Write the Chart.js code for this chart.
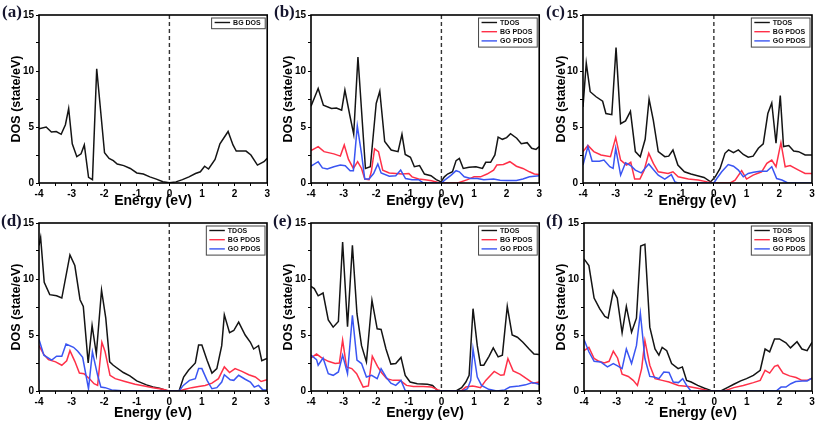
<!DOCTYPE html>
<html><head><meta charset="utf-8">
<script src="https://cdn.jsdelivr.net/npm/chart.js@4/dist/chart.umd.min.js"></script>
<style>
html,body{margin:0;padding:0;background:#fff;}
#wrap{position:relative;width:817px;height:424px;overflow:hidden;background:#fff;}
canvas{position:absolute;}
.lbl{position:absolute;font:bold 17px "Liberation Serif","DejaVu Serif",serif;line-height:17px;color:#15152e;}
</style></head><body><div id="wrap"></div>
<script>
// ---- axis / labels ----
const panelLabels = ['(a)', '(b)', '(c)', '(d)', '(e)', '(f)'];
const xTitle = 'Energy (eV)';
const yTitle = 'DOS (state/eV)';
const xRange = [-4, 3];
const yRange = [0, 15];
const seriesNames = ['TDOS', 'BG PDOS', 'GO PDOS'];
const singleName = 'BG DOS';

// ---- data: [energy (eV), DOS (state/eV)] ----
const aBG = [[-4,4.85],[-3.78,5.0],[-3.62,4.55],[-3.47,4.6],[-3.32,4.35],[-3.19,5.2],[-3.09,6.65],[-2.98,3.5],[-2.84,2.35],[-2.71,2.6],[-2.61,3.4],[-2.48,0.5],[-2.36,0.3],[-2.23,10.2],[-1.99,2.7],[-1.85,2.2],[-1.72,2.0],[-1.6,1.7],[-1.4,1.55],[-1.2,1.3],[-1.0,0.9],[-0.8,0.8],[-0.6,0.55],[-0.4,0.35],[-0.2,0.12],[0,0.03],[0.2,0.1],[0.4,0.3],[0.6,0.55],[0.8,0.85],[0.95,1.0],[1.08,1.5],[1.2,1.25],[1.4,2.1],[1.55,3.5],[1.8,4.6],[1.95,3.4],[2.05,2.85],[2.35,2.85],[2.5,2.5],[2.7,1.6],[2.9,1.9],[3.0,2.2]];

const bTDOS = [[-4,6.86],[-3.78,8.43],[-3.62,6.95],[-3.37,6.65],[-3.22,6.7],[-3.06,6.5],[-2.96,8.3],[-2.81,6.05],[-2.69,4.35],[-2.56,11.25],[-2.33,1.3],[-2.18,1.45],[-2.0,7.1],[-1.89,8.2],[-1.74,3.7],[-1.54,2.95],[-1.33,2.8],[-1.21,4.35],[-1.11,2.55],[-0.95,2.3],[-0.83,1.45],[-0.67,1.55],[-0.52,0.8],[-0.32,0.65],[-0.16,0.3],[-0.01,0.1],[0.09,0.55],[0.19,0.8],[0.34,1.0],[0.45,2.0],[0.55,2.2],[0.67,1.3],[0.85,1.4],[1.06,1.45],[1.26,1.3],[1.36,1.85],[1.51,1.85],[1.64,2.5],[1.74,4.1],[1.87,3.9],[2.0,4.05],[2.12,4.4],[2.31,4.0],[2.45,3.5],[2.63,3.6],[2.77,3.1],[2.9,3.0],[3.0,3.25]];
const bBG = [[-4,2.9],[-3.78,3.25],[-3.6,2.8],[-3.3,2.6],[-3.1,2.4],[-2.98,3.4],[-2.85,2.1],[-2.7,1.3],[-2.57,1.9],[-2.45,1.3],[-2.35,0.35],[-2.22,0.3],[-2.15,1.0],[-2.05,3.05],[-1.93,2.8],[-1.8,1.15],[-1.6,0.9],[-1.4,0.85],[-1.2,0.8],[-1.0,0.85],[-0.9,0.55],[-0.7,0.35],[-0.5,0.3],[-0.3,0.2],[-0.1,0.05],[0,0],[0.5,0],[0.8,0.3],[1.0,0.55],[1.2,0.55],[1.4,0.8],[1.6,1.15],[1.7,1.6],[1.9,1.65],[2.1,1.9],[2.3,1.5],[2.5,1.3],[2.7,1.0],[2.85,0.8],[3.0,0.75]];
const bGO = [[-4,1.5],[-3.78,1.9],[-3.65,1.35],[-3.5,1.25],[-3.3,1.45],[-3.1,1.6],[-2.95,1.55],[-2.8,1.1],[-2.7,1.1],[-2.58,5.1],[-2.45,2.6],[-2.35,0.35],[-2.22,0.35],[-2.08,0.85],[-1.95,1.7],[-1.85,0.9],[-1.6,0.6],[-1.4,0.65],[-1.25,1.15],[-1.1,0.4],[-0.9,0.3],[-0.7,0.3],[-0.55,0],[0,0],[0.1,0.25],[0.3,0.7],[0.45,1.1],[0.55,1.0],[0.7,0.55],[0.9,0.4],[1.1,0.4],[1.3,0.3],[1.6,0.35],[1.8,0.25],[2.0,0.22],[2.3,0.22],[2.5,0.35],[2.7,0.55],[3.0,0.65]];

const cTDOS = [[-4,6.8],[-3.9,10.7],[-3.78,8.15],[-3.6,7.7],[-3.4,7.3],[-3.3,6.2],[-3.12,6.1],[-2.99,12.1],[-2.85,5.3],[-2.7,5.55],[-2.55,6.4],[-2.4,2.8],[-2.25,2.35],[-2.1,3.9],[-1.98,7.5],[-1.85,5.6],[-1.7,2.8],[-1.5,2.35],[-1.38,2.4],[-1.25,2.95],[-1.1,1.6],[-0.9,1.0],[-0.7,0.8],[-0.5,0.65],[-0.3,0.5],[-0.1,0.1],[0.04,0.55],[0.19,1.3],[0.34,2.65],[0.45,2.95],[0.6,2.7],[0.75,2.95],[0.9,2.55],[1.05,2.3],[1.2,2.4],[1.36,3.1],[1.51,3.5],[1.65,6.2],[1.77,7.15],[1.9,3.55],[2.03,7.8],[2.13,3.25],[2.29,3.35],[2.44,2.85],[2.59,2.8],[2.79,2.5],[3.0,2.5]];
const cBG = [[-4,2.8],[-3.85,3.35],[-3.67,2.8],[-3.45,2.5],[-3.16,2.35],[-3.0,4.05],[-2.85,2.05],[-2.67,1.6],[-2.54,1.85],[-2.42,0.35],[-2.26,0.35],[-2.13,1.15],[-1.99,2.65],[-1.85,1.75],[-1.7,1.0],[-1.4,0.85],[-1.25,1.0],[-1.09,0.55],[-0.78,0.35],[-0.48,0.27],[-0.2,0.1],[0,0],[0.5,0],[0.65,0.25],[0.85,1.1],[1.0,0.35],[1.2,0.7],[1.46,1.0],[1.62,1.75],[1.77,2.05],[1.9,1.45],[2.05,3.6],[2.18,1.45],[2.33,1.55],[2.59,1.15],[2.79,0.85],[3.0,0.85]];
const cGO = [[-4,1.6],[-3.85,3.25],[-3.72,1.95],[-3.5,1.95],[-3.36,2.05],[-3.18,1.45],[-3.08,1.3],[-3.0,3.1],[-2.85,0.7],[-2.7,1.8],[-2.54,1.55],[-2.4,1.15],[-2.22,0.9],[-1.99,1.7],[-1.85,1.2],[-1.7,0.7],[-1.5,0.35],[-1.3,0.75],[-1.19,0.1],[-1.09,0],[0,0],[0.09,0.4],[0.24,1.0],[0.44,1.65],[0.6,1.5],[0.75,1.15],[0.9,0.55],[1.05,0.85],[1.21,0.95],[1.41,1.05],[1.62,1.05],[1.77,1.45],[1.92,0.4],[2.08,0.27],[2.26,0],[3.0,0]];

const dTDOS = [[-4,13.0],[-3.95,13.7],[-3.84,9.7],[-3.67,8.6],[-3.46,8.5],[-3.3,8.3],[-3.05,12.15],[-2.9,11.2],[-2.74,8.15],[-2.64,7.55],[-2.49,2.5],[-2.37,5.85],[-2.24,3.3],[-2.08,9.0],[-1.95,6.5],[-1.83,2.6],[-1.72,2.3],[-1.41,1.65],[-1.21,1.35],[-1.0,0.9],[-0.7,0.55],[-0.5,0.35],[-0.3,0.25],[-0.05,0],[0.3,0],[0.44,1.25],[0.59,1.85],[0.8,2.5],[0.9,4.1],[1.0,4.1],[1.16,2.75],[1.31,1.6],[1.46,2.0],[1.61,4.05],[1.69,6.8],[1.85,5.2],[1.98,5.4],[2.13,6.15],[2.33,5.0],[2.49,4.35],[2.59,3.75],[2.74,4.05],[2.84,2.7],[3.0,2.9]];
const dBG = [[-4,4.05],[-3.85,3.25],[-3.71,2.8],[-3.49,2.6],[-3.3,2.3],[-3.15,2.7],[-3.05,3.6],[-2.9,2.65],[-2.76,1.6],[-2.62,1.55],[-2.45,1.1],[-2.31,0.65],[-2.2,0.5],[-2.07,4.35],[-1.97,3.5],[-1.82,1.4],[-1.66,1.1],[-1.36,0.85],[-1.05,0.6],[-0.77,0.45],[-0.5,0.3],[-0.2,0.15],[0,0],[0.3,0],[0.49,0.15],[0.69,0.3],[0.9,0.4],[1.1,0.5],[1.31,0.7],[1.51,1.1],[1.69,2.15],[1.85,1.65],[2.02,2.0],[2.23,1.75],[2.44,1.45],[2.64,1.25],[2.82,0.85],[3.0,1.0]];
const dGO = [[-4,4.6],[-3.85,3.2],[-3.61,2.75],[-3.46,3.1],[-3.3,3.1],[-3.17,4.2],[-2.94,3.9],[-2.81,3.55],[-2.66,3.0],[-2.48,0.2],[-2.36,3.5],[-2.2,1.4],[-2.1,0.35],[-1.97,0.3],[-1.77,0.1],[-1.36,0],[0.3,0],[0.43,0.5],[0.62,0.95],[0.8,1.1],[0.9,2.0],[1.0,2.0],[1.16,0.95],[1.31,0.2],[1.46,0.3],[1.61,0.8],[1.69,1.45],[1.87,1.0],[1.98,0.95],[2.13,1.4],[2.33,1.05],[2.49,0.8],[2.61,0.35],[2.74,0.5],[2.87,0.1],[3.0,0.1]];

const eTDOS = [[-4,9.35],[-3.9,9.15],[-3.78,8.5],[-3.63,8.75],[-3.47,6.35],[-3.32,5.7],[-3.16,6.2],[-3.03,13.3],[-2.88,5.75],[-2.73,13.0],[-2.59,6.9],[-2.45,4.05],[-2.3,2.6],[-2.13,8.1],[-1.97,5.55],[-1.85,5.5],[-1.7,3.75],[-1.55,2.4],[-1.4,2.45],[-1.24,3.0],[-1.11,1.4],[-0.96,0.8],[-0.74,0.65],[-0.43,0.6],[-0.27,0.5],[-0.12,0.05],[0,0],[0.45,0],[0.62,0.3],[0.75,0.8],[0.85,1.4],[0.97,7.35],[1.1,4.05],[1.2,2.3],[1.3,2.3],[1.46,3.1],[1.59,3.85],[1.74,3.05],[1.87,3.2],[2.02,7.55],[2.17,5.0],[2.33,4.8],[2.5,4.35],[2.69,3.75],[2.84,3.3],[3.0,3.25]];
const eBG = [[-4,2.95],[-3.83,3.3],[-3.67,2.95],[-3.47,2.65],[-3.26,2.45],[-3.13,2.5],[-3.03,4.55],[-2.91,2.15],[-2.75,2.0],[-2.6,1.55],[-2.5,0.95],[-2.4,0.35],[-2.24,0.45],[-2.12,3.1],[-1.96,2.2],[-1.84,1.65],[-1.68,1.1],[-1.48,0.95],[-1.27,0.95],[-1.07,0.5],[-0.86,0.4],[-0.56,0.4],[-0.3,0.35],[-0.1,0.1],[0,0],[0.6,0],[0.75,0.35],[0.95,0.45],[1.04,0.4],[1.2,0.3],[1.36,0.95],[1.62,1.75],[1.82,1.4],[1.92,1.45],[2.04,2.9],[2.2,1.8],[2.41,1.5],[2.61,1.1],[2.81,0.7],[3.0,0.8]];
const eGO = [[-4,3.2],[-3.83,2.8],[-3.78,2.3],[-3.63,2.95],[-3.47,1.55],[-3.32,1.4],[-3.16,1.7],[-3.03,3.2],[-2.88,1.55],[-2.73,6.75],[-2.59,2.75],[-2.45,2.45],[-2.3,1.25],[-2.14,1.4],[-1.97,1.1],[-1.85,2.0],[-1.7,1.25],[-1.55,0.7],[-1.4,0.5],[-1.24,0.95],[-1.11,0.05],[-0.99,0],[0.65,0],[0.8,0.2],[0.9,0.95],[0.97,3.75],[1.1,1.25],[1.23,0.5],[1.45,0.15],[1.7,0],[1.94,0.1],[2.1,0.35],[2.38,0.45],[2.58,0.55],[2.79,0.75],[3.0,0.6]];

const fTDOS = [[-4,11.8],[-3.85,11.2],[-3.69,8.3],[-3.52,7.35],[-3.36,6.65],[-3.26,6.5],[-3.1,8.95],[-2.98,8.3],[-2.83,5.2],[-2.7,7.55],[-2.54,5.25],[-2.39,6.5],[-2.26,12.95],[-2.13,13.1],[-1.98,5.7],[-1.82,3.75],[-1.7,3.2],[-1.6,3.9],[-1.46,3.6],[-1.31,2.45],[-1.11,2.0],[-0.98,2.15],[-0.85,0.95],[-0.71,0.8],[-0.51,0.5],[-0.3,0.25],[-0.11,0.05],[0,0],[0.2,0],[0.4,0.3],[0.6,0.6],[0.81,0.9],[0.99,1.1],[1.2,1.4],[1.41,1.85],[1.56,3.75],[1.7,3.5],[1.85,4.65],[2.0,4.65],[2.2,4.3],[2.34,3.85],[2.54,4.4],[2.69,3.75],[2.85,3.6],[3.0,4.35]];
const fBG = [[-4,3.6],[-3.85,3.9],[-3.69,2.9],[-3.54,2.65],[-3.38,2.5],[-3.23,2.65],[-3.1,3.55],[-2.97,2.95],[-2.83,1.5],[-2.64,1.3],[-2.49,0.95],[-2.36,0.5],[-2.23,2.0],[-2.13,4.5],[-1.98,2.3],[-1.82,1.1],[-1.6,0.95],[-1.39,0.8],[-1.1,0.5],[-0.8,0.4],[-0.51,0.25],[-0.2,0.05],[0,0],[0.3,0],[0.6,0.3],[0.89,0.5],[1.2,0.75],[1.41,0.95],[1.56,1.85],[1.7,1.6],[1.85,2.2],[1.95,2.3],[2.11,1.6],[2.31,1.35],[2.51,1.2],[2.69,0.95],[2.85,0.95],[3.0,1.15]];
const fGO = [[-4,4.6],[-3.85,3.5],[-3.69,2.65],[-3.49,2.6],[-3.28,2.15],[-3.1,2.45],[-2.97,2.25],[-2.83,2.0],[-2.7,3.75],[-2.54,2.45],[-2.39,4.05],[-2.27,6.95],[-2.13,2.9],[-1.98,1.3],[-1.85,1.25],[-1.7,1.1],[-1.55,1.7],[-1.39,1.65],[-1.26,0.8],[-1.1,0.75],[-0.97,1.1],[-0.85,0.5],[-0.72,0],[1.9,0],[2.05,0.35],[2.2,0.35],[2.35,0.65],[2.5,0.85],[2.7,0.9],[2.85,0.9],[3.0,1.15]];

// ---- styling ----
const COLORS = { TDOS: '#141414', BG: '#ff3048', GO: '#3a55f2' };
const FONT = '"Liberation Sans", Arial, "DejaVu Sans", sans-serif';

const panels = [
  { lbl: panelLabels[0], left: 0,   top: 0,   yw: 39, pr: 3, pt: 15, xh: 29, lx: 2,   ly: 3,
    series: [[singleName, COLORS.TDOS, aBG]] },
  { lbl: panelLabels[1], left: 272, top: 0,   yw: 39, pr: 3, pt: 15, xh: 29, lx: 274, ly: 3,
    series: [[seriesNames[0], COLORS.TDOS, bTDOS], [seriesNames[1], COLORS.BG, bBG], [seriesNames[2], COLORS.GO, bGO]] },
  { lbl: panelLabels[2], left: 545, top: 0,   yw: 38, pr: 5, pt: 15, xh: 29, lx: 546, ly: 3,
    series: [[seriesNames[0], COLORS.TDOS, cTDOS], [seriesNames[1], COLORS.BG, cBG], [seriesNames[2], COLORS.GO, cGO]] },
  { lbl: panelLabels[3], left: 0,   top: 212, yw: 39, pr: 5, pt: 11, xh: 33, lx: 1,   ly: 212,
    series: [[seriesNames[0], COLORS.TDOS, dTDOS], [seriesNames[1], COLORS.BG, dBG], [seriesNames[2], COLORS.GO, dGO]] },
  { lbl: panelLabels[4], left: 272, top: 212, yw: 39, pr: 4, pt: 11, xh: 33, lx: 273, ly: 212,
    series: [[seriesNames[0], COLORS.TDOS, eTDOS], [seriesNames[1], COLORS.BG, eBG], [seriesNames[2], COLORS.GO, eGO]] },
  { lbl: panelLabels[5], left: 545, top: 212, yw: 39, pr: 5, pt: 11, xh: 33, lx: 546, ly: 212,
    series: [[seriesNames[0], COLORS.TDOS, fTDOS], [seriesNames[1], COLORS.BG, fBG], [seriesNames[2], COLORS.GO, fGO]] }
];

const framePlugin = {
  id: 'frameAndLegend',
  afterDatasetsDraw(chart, args, opts) {
    const ctx = chart.ctx, a = chart.chartArea;
    const xs = chart.scales.x;
    ctx.save();
    // dashed Fermi level
    const x0 = xs.getPixelForValue(0);
    ctx.strokeStyle = '#333';
    ctx.lineWidth = 1.4;
    ctx.setLineDash([4, 3]);
    ctx.beginPath(); ctx.moveTo(x0, a.top); ctx.lineTo(x0, a.bottom); ctx.stroke();
    ctx.setLineDash([]);
    // frame
    ctx.strokeStyle = '#000';
    ctx.lineWidth = 1.6;
    ctx.strokeRect(a.left, a.top, a.right - a.left, a.bottom - a.top);
    // legend box
    const items = opts.items;
    ctx.font = 'bold 7px ' + FONT;
    let tw = 0;
    items.forEach(it => { tw = Math.max(tw, ctx.measureText(it[0]).width); });
    const rowH = 9.2;
    const bw = 22 + tw + 4, bh = items.length * rowH + 1.5;
    const bx = a.right - 2.5 - bw, by = a.top + 2.5;
    ctx.fillStyle = '#fff';
    ctx.fillRect(bx, by, bw, bh);
    ctx.strokeStyle = '#444';
    ctx.lineWidth = 1;
    ctx.strokeRect(bx + 0.5, by + 0.5, bw, bh);
    items.forEach((it, i) => {
      const cy = by + 5 + i * rowH;
      ctx.strokeStyle = it[1];
      ctx.lineWidth = 1.4;
      ctx.beginPath(); ctx.moveTo(bx + 3.5, cy); ctx.lineTo(bx + 19, cy); ctx.stroke();
      ctx.fillStyle = '#111';
      ctx.textBaseline = 'middle';
      ctx.textAlign = 'left';
      ctx.fillText(it[0], bx + 22, cy + 0.5);
    });
    ctx.restore();
  }
};

const wrap = document.getElementById('wrap');
panels.forEach(p => {
  const cv = document.createElement('canvas');
  cv.width = 272; cv.height = 212;
  cv.style.left = p.left + 'px'; cv.style.top = p.top + 'px';
  cv.style.width = '272px'; cv.style.height = '212px';
  wrap.appendChild(cv);
  const lab = document.createElement('div');
  lab.className = 'lbl';
  lab.textContent = p.lbl;
  lab.style.left = p.lx + 'px'; lab.style.top = p.ly + 'px';
  wrap.appendChild(lab);

  const datasets = p.series.slice().reverse().map(s => ({
    label: s[0],
    data: s[2].map(d => ({ x: d[0], y: d[1] })),
    borderColor: s[1],
    backgroundColor: s[1],
    borderWidth: 1.5,
    pointRadius: 0,
    tension: 0,
    fill: false
  }));

  new Chart(cv, {
    type: 'line',
    data: { datasets },
    options: {
      responsive: false,
      animation: false,
      devicePixelRatio: 1,
      layout: { padding: { top: p.pt, right: p.pr, left: 0, bottom: 0 } },
      plugins: {
        legend: { display: false },
        tooltip: { enabled: false },
        frameAndLegend: { items: p.series.map(s => [s[0], s[1]]) }
      },
      scales: {
        x: {
          type: 'linear', min: xRange[0], max: xRange[1],
          afterFit: s => { s.height = p.xh; },
          border: { display: false },
          grid: { drawOnChartArea: false, drawTicks: true, tickLength: 3, color: '#000', lineWidth: 1 },
          ticks: {
            stepSize: 0.5, autoSkip: false, maxRotation: 0, padding: 2, color: '#000',
            font: { family: FONT, size: 10, weight: 'bold' },
            callback: v => Number.isInteger(v) ? String(v) : ''
          },
          title: { display: true, text: xTitle, color: '#000', padding: { top: 0, bottom: 2 },
                   font: { family: FONT, size: 14, weight: 'bold' } }
        },
        y: {
          type: 'linear', min: yRange[0], max: yRange[1],
          afterFit: s => { s.width = p.yw; },
          border: { display: false },
          grid: { drawOnChartArea: false, drawTicks: true, tickLength: 3, color: '#000', lineWidth: 1 },
          ticks: {
            stepSize: 2.5, autoSkip: false, padding: 2, color: '#000',
            font: { family: FONT, size: 10, weight: 'bold' },
            callback: v => (v % 5 === 0) ? String(v) : ''
          },
          title: { display: true, text: yTitle, color: '#000', padding: { top: 9, bottom: 0 },
                   font: { family: FONT, size: 12.5, weight: 'bold' } }
        }
      }
    },
    plugins: [framePlugin]
  });
});
</script>
</body></html>
